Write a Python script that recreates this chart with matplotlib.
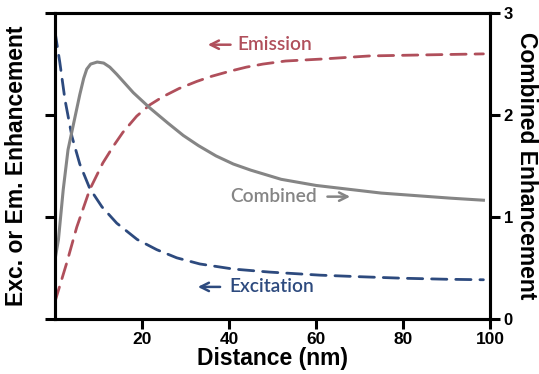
import numpy as np
import matplotlib
matplotlib.use('Agg')
import matplotlib.pyplot as plt

# values (distance in nm, enhancement)
dist_exc = [0, 1.1, 2.3, 3.9, 5.7, 8, 10.8, 14.2, 18.9, 23.4, 28, 33.3, 41, 49.4, 61, 70, 80, 90, 98.5]
excitation = [2.82, 2.52, 2.15, 1.79, 1.52, 1.28, 1.1, 0.94, 0.78, 0.68, 0.6, 0.54, 0.49, 0.46, 0.43,
              0.415, 0.40, 0.39, 0.385]

dist_em = [0, 2.7, 5, 8, 11, 13.5, 15.6, 18.8, 21.8, 24.8, 28.5, 32.6, 36, 40.2, 44, 47.8, 53,
           61.6, 72.4, 85, 98.5]
emission = [0.17, 0.55, 0.9, 1.27, 1.53, 1.7, 1.83, 1.99, 2.1, 2.18, 2.26, 2.33, 2.38, 2.43, 2.47,
            2.5, 2.53, 2.55, 2.58, 2.59, 2.6]

dist_comb = [0, 0.8, 1.9, 3, 4.6, 5.7, 6.6, 7.3, 8.2, 9.7, 11.2, 12.6, 14.2, 18, 21.8, 26, 29.5,
             33, 37, 41, 45, 52, 60, 68, 75, 83, 91, 98.5]
combined = [0.58, 0.78, 1.27, 1.66, 1.98, 2.2, 2.36, 2.45, 2.5, 2.52, 2.51, 2.47, 2.4, 2.22, 2.07,
            1.92, 1.8, 1.7, 1.6, 1.52, 1.46, 1.37, 1.31, 1.27, 1.235, 1.21, 1.185, 1.165]

red = '#b04f5b'
blue = '#2d4a7e'
grey = '#858585'

plt.rcParams['font.family'] = ['Liberation Sans', 'DejaVu Sans']
plt.rcParams['font.weight'] = 'bold'

fig = plt.figure(figsize=(5.39, 3.74), dpi=100)
ax = fig.add_axes([0.102, 0.147, 0.807, 0.818])
ax2 = ax.twinx()

dash = (5.5, 3.2)
ax.plot(dist_exc, excitation, color=blue, lw=2.0, dashes=dash, dash_capstyle='round')
ax.plot(dist_em, emission, color=red, lw=2.0, dashes=dash, dash_capstyle='round')
ax2.plot(dist_comb, combined, color=grey, lw=2.2, solid_joinstyle='round')

for a in (ax, ax2):
    a.set_xlim(0, 100)
    a.set_ylim(0, 3)
    for s in a.spines.values():
        s.set_linewidth(2.2)
    a.tick_params(width=2.2, length=7)

ax.set_yticks([0, 1, 2, 3])
ax.set_yticklabels([])
ax2.set_yticks([0, 1, 2, 3])
ax2.set_yticklabels(['0', '1', '2', '3'], fontsize=12, fontweight='bold')
ax.set_xticks([20, 40, 60, 80, 100])
ax.set_xticklabels(['20', '40', '60', '80', '100'], fontsize=12.5, fontweight='bold')
ax.tick_params(axis='x', pad=2)
ax2.tick_params(axis='y', pad=3)

ax.set_xlabel('Distance (nm)', fontsize=16.5, fontweight='bold', labelpad=0)
ax.set_ylabel('Exc. or Em. Enhancement', fontsize=16.5, fontweight='bold', labelpad=9)
ax2.set_ylabel('Combined Enhancement', fontsize=16.5, fontweight='bold', rotation=-90, labelpad=18)

lab = ['Lato', 'DejaVu Sans']
fs = 13.8
ax2.annotate('', xy=(34.5, 2.69), xytext=(41, 2.69),
             arrowprops=dict(arrowstyle='->', color=red, lw=1.8, mutation_scale=15))
ax2.text(42, 2.69, 'Emission', color=red, fontsize=fs, family=lab, fontweight='semibold',
         va='center', ha='left')
ax2.text(40.2, 1.2, 'Combined', color=grey, fontsize=fs, family=lab, fontweight='semibold',
         va='center', ha='left')
ax2.annotate('', xy=(68.5, 1.2), xytext=(62, 1.2),
             arrowprops=dict(arrowstyle='->', color=grey, lw=1.8, mutation_scale=15))
ax2.annotate('', xy=(32.2, 0.315), xytext=(38.6, 0.315),
             arrowprops=dict(arrowstyle='->', color=blue, lw=1.8, mutation_scale=15))
ax2.text(40.2, 0.315, 'Excitation', color=blue, fontsize=fs, family=lab, fontweight='semibold',
         va='center', ha='left')

fig.savefig('out.png', dpi=100)
